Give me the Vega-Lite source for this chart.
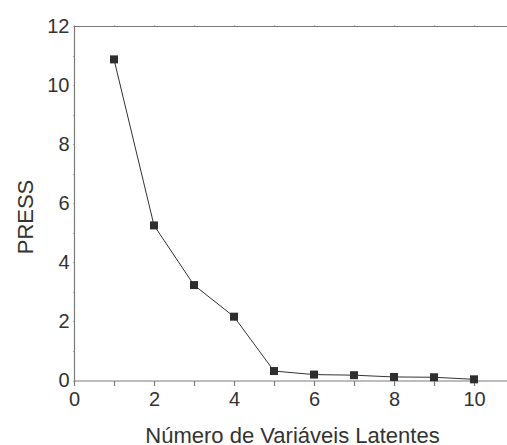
{
  "$schema": "https://vega.github.io/schema/vega-lite/v6.json",
  "autosize": "none",
  "width": 436,
  "height": 354.5,
  "padding": {"left": 74, "top": 26, "right": 0, "bottom": 64.5},
  "background": "white",
  "config": {
    "view": {"stroke": null},
    "font": "Liberation Sans",
    "axis": {
      "domainColor": "#7a7a7a",
      "tickColor": "#7a7a7a",
      "domainWidth": 1.2,
      "tickWidth": 1.2,
      "grid": false,
      "labelFont": "Liberation Sans",
      "labelFontSize": 20,
      "labelColor": "#333333",
      "titleFont": "Liberation Sans",
      "titleFontSize": 22,
      "titleFontWeight": "normal",
      "titleColor": "#333333",
      "labelFlush": false,
      "labelOverlap": false
    }
  },
  "data": {
    "values": [
      {"lv": 1, "press": 10.87},
      {"lv": 2, "press": 5.25},
      {"lv": 3, "press": 3.23},
      {"lv": 4, "press": 2.16},
      {"lv": 5, "press": 0.32},
      {"lv": 6, "press": 0.2},
      {"lv": 7, "press": 0.18},
      {"lv": 8, "press": 0.12},
      {"lv": 9, "press": 0.11},
      {"lv": 10, "press": 0.04}
    ]
  },
  "layer": [
    {
      "mark": {"type": "line", "color": "#333333", "strokeWidth": 1},
      "encoding": {
        "x": {
          "field": "lv",
          "type": "quantitative",
          "scale": {"domain": [0, 10.9], "nice": false, "zero": false},
          "axis": {
            "orient": "bottom",
            "title": "Número de Variáveis Latentes",
            "values": [0, 1, 2, 3, 4, 5, 6, 7, 8, 9, 10],
            "labelExpr": "datum.value % 2 === 0 ? datum.label : ''",
            "tickSize": 5,
            "labelPadding": 4,
            "titleY": 62,
            "titleBaseline": "alphabetic",
            "encode": {"ticks": {"update": {"y2": {"signal": "datum.value % 2 === 0 ? 5 : 3"}}}}
          }
        },
        "y": {
          "field": "press",
          "type": "quantitative",
          "scale": {"domain": [0, 12], "nice": false, "zero": true},
          "axis": {
            "orient": "left",
            "title": "PRESS",
            "values": [0, 1, 2, 3, 4, 5, 6, 7, 8, 9, 10, 11, 12],
            "labelExpr": "datum.value % 2 === 0 ? datum.label : ''",
            "tickSize": 1,
            "labelPadding": 4,
            "titleAngle": 270,
            "titleAlign": "center",
            "titleBaseline": "alphabetic",
            "titleX": -42,
            "titleY": 190.5,
            "encode": {"ticks": {"update": {"x2": {"signal": "datum.value % 2 === 0 ? 7 : 3.5"}}}}
          }
        }
      }
    },
    {
      "mark": {"type": "point", "shape": "square", "filled": true, "color": "#2e2e2e", "opacity": 1, "size": 64},
      "encoding": {
        "x": {
          "field": "lv",
          "type": "quantitative",
          "axis": {
            "orient": "top",
            "title": null,
            "labels": false,
            "values": [0, 1, 2, 3, 4, 5, 6, 7, 8, 9, 10],
            "tickSize": 1,
            "encode": {"ticks": {"update": {"y2": {"signal": "datum.value % 2 === 0 ? 7 : 4"}}}}
          }
        },
        "y": {
          "field": "press",
          "type": "quantitative",
          "axis": {
            "orient": "left",
            "title": "PRESS",
            "values": [0, 1, 2, 3, 4, 5, 6, 7, 8, 9, 10, 11, 12],
            "labelExpr": "datum.value % 2 === 0 ? datum.label : ''",
            "tickSize": 1,
            "labelPadding": 4,
            "titleAngle": 270,
            "titleAlign": "center",
            "titleBaseline": "alphabetic",
            "titleX": -42,
            "titleY": 190.5,
            "encode": {"ticks": {"update": {"x2": {"signal": "datum.value % 2 === 0 ? 7 : 3.5"}}}}
          }
        }
      }
    }
  ]
}
